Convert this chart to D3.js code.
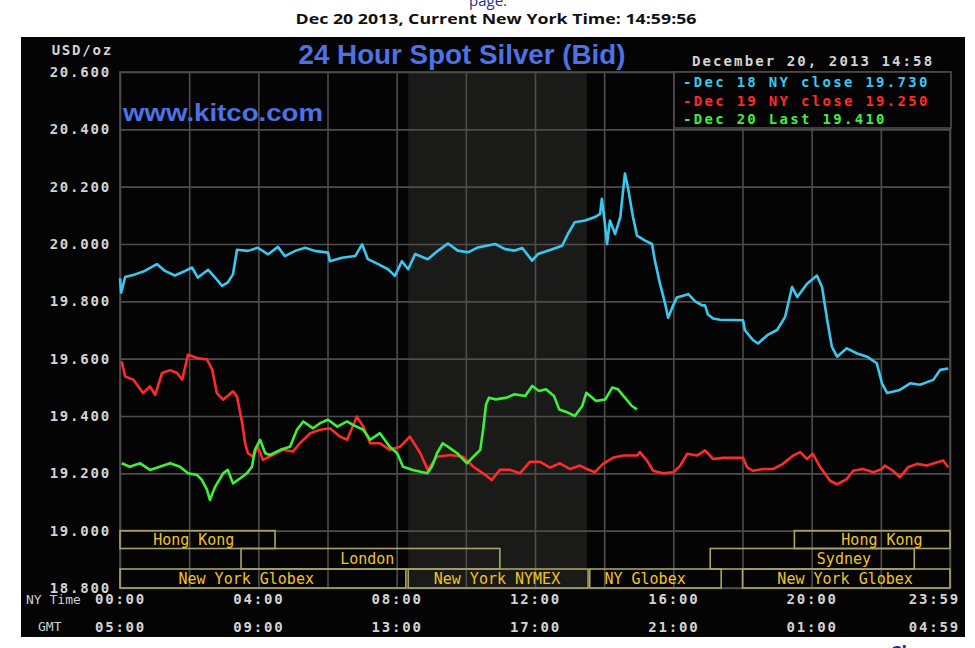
<!DOCTYPE html>
<html><head><meta charset="utf-8">
<script src="https://cdn.jsdelivr.net/npm/d3@7"></script>
<style>body{margin:0;background:#fff;}svg{display:block;}</style>
</head><body>
<svg id="chart" width="975" height="648"></svg>
<script>
// ---------------- data ----------------
const yTicks = [18.8, 19.0, 19.2, 19.4, 19.6, 19.8, 20.0, 20.2, 20.4, 20.6];
const gridMinutes = [0, 120, 240, 360, 480, 600, 720, 840, 960, 1080, 1200, 1320, 1440];
const labelMinutes = [0, 240, 480, 720, 960, 1200, 1439];
const nyTimeLabels = ["00:00", "04:00", "08:00", "12:00", "16:00", "20:00", "23:59"];
const gmtLabels = ["05:00", "09:00", "13:00", "17:00", "21:00", "01:00", "04:59"];
const legendLabels = ["Dec 18 NY close 19.730", "Dec 19 NY close 19.250", "Dec 20 Last 19.410"];
const nymexFloor = [500, 810];

const sessionNames = ["Hong Kong", "London", "New York Globex", "New York NYMEX", "NY Globex", "New York Globex", "Sydney", "Hong Kong"];
const sessionRows = [0, 1, 2, 2, 2, 2, 1, 0];
const sessionStart = [0, 210, 0, 500, 815, 1080, 1024, 1170];
const sessionEnd = [269, 659, 496, 812, 1043, 1440, 1378, 1440];
const sessionLabelAt = [128, 429, 219, 654, 911, 1258, 1256, 1322];

// Dec 18 (blue): [minute NY time, price]
const dec18 = [[0,19.88],[2,19.83],[9,19.885],[26,19.894],[43,19.906],[64,19.93],[78,19.906],[95,19.89],[113,19.906],[125,19.918],[135,19.883],[153,19.91],[165,19.883],[177,19.854],[187,19.866],[196,19.894],[203,19.98],[222,19.976],[239,19.987],[257,19.964],[274,19.99],[286,19.958],[304,19.976],[321,19.987],[338,19.976],[361,19.97],[364,19.94],[385,19.952],[408,19.958],[420,19.999],[430,19.947],[448,19.93],[465,19.912],[477,19.889],[489,19.94],[500,19.912],[512,19.965],[534,19.947],[552,19.977],[569,20.002],[586,19.977],[604,19.971],[621,19.988],[651,20.0],[668,19.982],[685,19.977],[698,19.986],[715,19.942],[725,19.965],[750,19.982],[767,19.994],[777,20.035],[789,20.076],[807,20.082],[824,20.094],[833,20.105],[836,20.158],[842,20.058],[845,20.0],[850,20.082],[859,20.035],[868,20.094],[876,20.246],[881,20.2],[890,20.094],[897,20.029],[911,20.012],[923,20.0],[928,19.942],[937,19.86],[946,19.79],[951,19.743],[958,19.778],[966,19.813],[986,19.825],[998,19.8],[1010,19.786],[1015,19.786],[1020,19.754],[1029,19.74],[1041,19.736],[1081,19.734],[1084,19.7],[1098,19.665],[1107,19.653],[1123,19.682],[1140,19.7],[1154,19.746],[1166,19.85],[1175,19.815],[1192,19.861],[1209,19.89],[1218,19.85],[1227,19.734],[1235,19.642],[1244,19.607],[1261,19.636],[1279,19.618],[1296,19.607],[1313,19.584],[1322,19.514],[1331,19.48],[1353,19.491],[1371,19.514],[1388,19.509],[1411,19.526],[1423,19.561],[1437,19.566]];

// Dec 19 (red)
const dec19 = [[3,19.59],[9,19.538],[23,19.527],[40,19.48],[52,19.503],[61,19.474],[73,19.55],[87,19.56],[99,19.55],[108,19.527],[118,19.614],[134,19.602],[151,19.597],[160,19.562],[168,19.48],[179,19.457],[196,19.486],[203,19.468],[212,19.375],[217,19.305],[222,19.27],[231,19.258],[239,19.293],[248,19.247],[265,19.264],[283,19.282],[300,19.276],[312,19.305],[330,19.34],[347,19.352],[364,19.357],[382,19.328],[394,19.317],[411,19.398],[422,19.363],[434,19.305],[451,19.305],[468,19.282],[486,19.293],[503,19.328],[521,19.27],[534,19.212],[550,19.258],[573,19.264],[595,19.258],[613,19.223],[630,19.2],[645,19.177],[659,19.212],[677,19.212],[694,19.2],[711,19.24],[729,19.24],[746,19.22],[763,19.235],[781,19.215],[798,19.227],[810,19.215],[824,19.204],[838,19.233],[855,19.254],[873,19.262],[897,19.262],[902,19.274],[914,19.245],[925,19.209],[942,19.2],[960,19.204],[972,19.227],[984,19.268],[1001,19.262],[1015,19.28],[1029,19.25],[1046,19.254],[1081,19.254],[1088,19.221],[1098,19.209],[1116,19.215],[1133,19.215],[1150,19.233],[1168,19.262],[1180,19.274],[1192,19.25],[1202,19.268],[1215,19.221],[1232,19.174],[1244,19.162],[1261,19.18],[1272,19.209],[1289,19.215],[1307,19.204],[1322,19.215],[1327,19.227],[1341,19.209],[1353,19.186],[1367,19.221],[1383,19.233],[1400,19.227],[1418,19.239],[1428,19.245],[1437,19.221]];

// Dec 20 (green)
const dec20 = [[3,19.235],[17,19.223],[35,19.235],[52,19.212],[69,19.223],[87,19.235],[104,19.223],[118,19.2],[134,19.194],[142,19.177],[151,19.142],[156,19.107],[165,19.153],[179,19.2],[187,19.212],[196,19.165],[208,19.182],[220,19.2],[229,19.223],[234,19.282],[243,19.317],[252,19.27],[260,19.264],[278,19.282],[295,19.293],[307,19.352],[318,19.381],[335,19.357],[347,19.375],[361,19.387],[377,19.363],[394,19.381],[404,19.369],[422,19.352],[434,19.317],[451,19.34],[468,19.293],[481,19.27],[491,19.223],[508,19.212],[533,19.2],[541,19.223],[550,19.27],[560,19.305],[573,19.287],[585,19.27],[602,19.235],[613,19.258],[625,19.282],[630,19.352],[635,19.44],[640,19.464],[652,19.458],[671,19.464],[684,19.476],[703,19.47],[715,19.505],[727,19.487],[739,19.493],[753,19.47],[762,19.423],[777,19.412],[789,19.4],[802,19.435],[809,19.481],[826,19.452],[842,19.458],[854,19.499],[864,19.493],[876,19.464],[888,19.435],[897,19.423]];

const seriesData = [dec18, dec19, dec20];
const seriesColors = ["#38c8f0", "#ff2a2a", "#3cf03c"];

// ---------------- drawing ----------------
const svg = d3.select("#chart");
const L = 120, R = 950, T = 72, B = 588;
const x = d3.scaleLinear().domain([0, 1440]).range([L, R]);
const y = d3.scaleLinear().domain([18.8, 20.6]).range([B, T]);
const mono = "'DejaVu Sans Mono', 'Liberation Mono', monospace";

// page texts
svg.append("text").attr("x", 488).attr("y", 6).attr("text-anchor", "middle")
  .attr("font-family", "'Open Sans', Arial, sans-serif").attr("font-size", 15)
  .attr("fill", "#1f2f8f").text("page.");
svg.append("text").attr("x", 496).attr("y", 24).attr("text-anchor", "middle")
  .attr("font-family", "'Open Sans', Arial, sans-serif").attr("font-weight", "bold").attr("font-size", 13.5)
  .attr("textLength", 401).attr("lengthAdjust", "spacingAndGlyphs")
  .attr("fill", "#111").text("Dec 20 2013, Current New York Time: 14:59:56");
svg.append("text").attr("x", 890).attr("y", 659)
  .attr("font-family", "'Open Sans', Arial, sans-serif").attr("font-weight", "bold").attr("font-size", 18)
  .attr("fill", "#1f2f8f").text("Cl");

// black panel
svg.append("rect").attr("x", 21).attr("y", 37).attr("width", 944).attr("height", 600).attr("fill", "#040404");

// NYMEX floor shading
svg.append("rect").attr("x", x(nymexFloor[0])).attr("y", T)
  .attr("width", x(nymexFloor[1]) - x(nymexFloor[0])).attr("height", B - T).attr("fill", "#1a1a18");

// grid
const gridColor = "#4d4d4d";
const gy = svg.append("g").attr("transform", `translate(${L},0)`)
  .call(d3.axisLeft(y).tickValues(yTicks).tickSize(-(R - L)).tickFormat(""));
const gx = svg.append("g").attr("transform", `translate(0,${B})`)
  .call(d3.axisBottom(x).tickValues(gridMinutes).tickSize(-(B - T)).tickFormat(""));
[gy, gx].forEach(g => {
  g.select(".domain").remove();
  g.selectAll("line").attr("stroke", gridColor).attr("stroke-width", 1.6);
});
svg.append("rect").attr("x", L).attr("y", T).attr("width", R - L).attr("height", B - T)
  .attr("fill", "none").attr("stroke", gridColor).attr("stroke-width", 1.6);

// market sessions
const rowTop = [y(19.0), 548.5, 569];
const rowBot = [548.5, 569, y(18.8)];
const sess = svg.append("g");
sessionNames.forEach((name, i) => {
  const r = sessionRows[i];
  sess.append("rect").attr("x", x(sessionStart[i])).attr("y", rowTop[r])
    .attr("width", x(sessionEnd[i]) - x(sessionStart[i])).attr("height", rowBot[r] - rowTop[r])
    .attr("fill", "none").attr("stroke", "#aaa462").attr("stroke-width", 1.6);
  sess.append("text").attr("x", x(sessionLabelAt[i])).attr("y", (rowTop[r] + rowBot[r]) / 2 + 5)
    .attr("text-anchor", "middle").attr("font-family", mono).attr("font-size", 15)
    .attr("fill", "#f0c428").text(name);
});

// price lines
const line = d3.line().x(d => x(d[0])).y(d => y(d[1]));
seriesData.forEach((s, i) => {
  svg.append("path").datum(s).attr("d", line).attr("fill", "none")
    .attr("stroke", seriesColors[i]).attr("stroke-width", 2.6).attr("stroke-linejoin", "round");
});

// y-axis labels
const ya = svg.append("g").attr("transform", `translate(${L},0)`)
  .call(d3.axisLeft(y).tickValues(yTicks).tickSize(0).tickPadding(9).tickFormat(d3.format(".3f")));
ya.select(".domain").remove();
ya.selectAll("text").attr("font-family", mono).attr("font-weight", "bold").attr("font-size", 14)
  .attr("letter-spacing", "1.8px").attr("fill", "#d4d4d4").attr("dy", "0.32em");

svg.append("text").attr("x", 113).attr("y", 55).attr("text-anchor", "end")
  .attr("font-family", mono).attr("font-weight", "bold").attr("font-size", 14).attr("letter-spacing", "1.8px")
  .attr("fill", "#d4d4d4").text("USD/oz");

// x-axis labels (two rows)
function timeRow(labels, yPos) {
  const g = svg.append("g").attr("transform", `translate(0,${yPos})`)
    .call(d3.axisBottom(x).tickValues(labelMinutes).tickSize(0).tickPadding(0)
      .tickFormat((d, i) => labels[i]));
  g.select(".domain").remove();
  g.selectAll("text").attr("font-family", mono).attr("font-weight", "bold").attr("font-size", 14)
    .attr("letter-spacing", "1.8px").attr("fill", "#d4d4d4").attr("dy", "0.35em").attr("y", 0);
  g.selectAll(".tick").filter((d, i) => i === labelMinutes.length - 1)
    .select("text").attr("text-anchor", "end").attr("x", 10);
}
timeRow(nyTimeLabels, 599);
timeRow(gmtLabels, 627);
svg.append("text").attr("x", 26).attr("y", 604).attr("font-family", mono).attr("font-size", 13)
  .attr("fill", "#cfcfcf").text("NY Time");
svg.append("text").attr("x", 38).attr("y", 631).attr("font-family", mono).attr("font-size", 13)
  .attr("fill", "#cfcfcf").text("GMT");

// title and site
svg.append("text").attr("x", 462).attr("y", 64).attr("text-anchor", "middle")
  .attr("font-family", "'Liberation Sans Narrow', 'Liberation Sans', Arial, sans-serif")
  .attr("font-weight", "bold").attr("font-size", 27)
  .attr("textLength", 327).attr("lengthAdjust", "spacingAndGlyphs")
  .attr("fill", "#4d72e6").text("24 Hour Spot Silver (Bid)");
svg.append("text").attr("x", 123).attr("y", 121)
  .attr("font-family", "'Liberation Sans', Arial, sans-serif").attr("font-weight", "bold").attr("font-size", 24)
  .attr("textLength", 200).attr("lengthAdjust", "spacingAndGlyphs")
  .attr("fill", "#4d72e6").text("www.kitco.com");
svg.append("text").attr("x", 692).attr("y", 66)
  .attr("font-family", mono).attr("font-weight", "bold").attr("font-size", 14).attr("letter-spacing", "2.1px")
  .attr("fill", "#d4d4d4").text("December 20, 2013 14:58");

// legend
svg.append("rect").attr("x", 674).attr("y", T).attr("width", 277).attr("height", 56)
  .attr("fill", "#040404").attr("stroke", gridColor).attr("stroke-width", 1.6);
legendLabels.forEach((lab, i) => {
  svg.append("text").attr("x", 683).attr("y", 87 + i * 18.5)
    .attr("font-family", mono).attr("font-weight", "bold").attr("font-size", 14).attr("letter-spacing", "2.3px")
    .attr("fill", seriesColors[i]).text("-" + lab);
});
</script>
</body></html>
